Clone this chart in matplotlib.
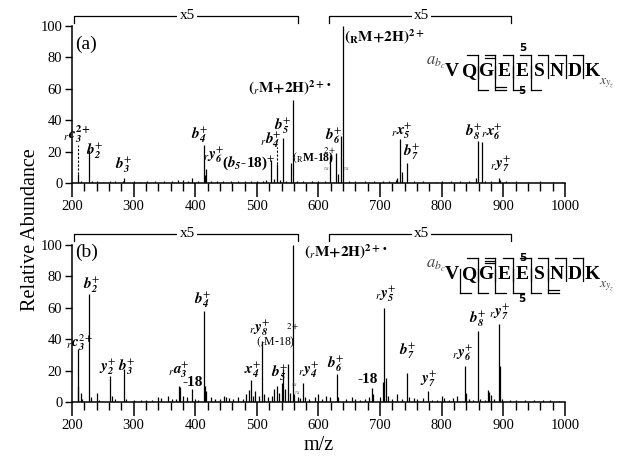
import numpy as np
import matplotlib.pyplot as plt

plt.rcParams['font.family'] = 'Liberation Serif'
plt.rcParams['mathtext.fontset'] = 'stix'

''' DATOS DEL ESPECTRO (m/z, abundancia relativa tal como se ve, con las zonas x5 ya aumentadas) '''
mz_a = [209, 215, 228, 232, 240, 250, 262, 270, 283, 285, 300, 310, 322, 335, 350, 362, 372, 380,
        388, 394, 405, 414, 416, 418, 425, 435, 445, 458, 470, 480, 490, 500, 510, 515, 523, 528,
        533, 538, 543, 548, 556, 558, 565, 575, 590, 600, 610, 619, 628, 632, 637, 639, 650, 660,
        675, 690, 705, 715, 725, 728, 733, 735, 744, 755, 770, 790, 800, 815, 830, 845, 855, 859,
        865, 870, 880, 893, 895, 905, 920, 940, 960, 980, 995]
ab_a = [6, 1.5, 21, 1, 1.2, 0.8, 1, 1.2, 1.5, 3, 1, 0.8, 1, 1.2, 1, 1.5, 2, 1.8,
        1.2, 3.5, 1.5, 24, 5, 9, 1.5, 1, 1.2, 1, 1.5, 1, 1.5, 1, 1.5, 2, 14.5, 2.5,
        12, 2, 28.5, 1.5, 13, 53, 1.5, 1, 1, 1.2, 1.5, 18, 19, 6, 30, 100, 1.5, 1,
        1, 1.2, 1, 1.2, 2, 3, 28, 7, 13, 1, 1, 0.8, 1, 1, 1, 1.5, 3, 27,
        26, 1.5, 1, 3, 2, 1, 1, 0.8, 1, 0.8, 0.8]

mz_b = [209, 210.5, 214, 217, 228, 231, 240, 244, 262, 265, 270, 285, 288, 300, 312, 320, 330,
        340, 345, 356, 362, 368, 374, 376, 380, 386, 394, 400, 405, 414, 416, 418, 425, 432, 440,
        447, 450, 455, 462, 470, 478, 483, 487, 490, 493, 497, 503, 508, 511, 518, 525, 528, 533,
        536, 540, 543, 546, 550, 553, 558, 560, 566, 570, 575, 578, 585, 595, 600, 606, 612, 618,
        630, 632, 645, 654, 660, 668, 675, 682, 687, 689, 700, 705, 707, 709, 712, 720, 727, 735,
        744, 747, 755, 760, 770, 777, 785, 792, 800, 803, 812, 818, 825, 837, 839, 845, 851, 859,
        862, 870, 875, 877, 880, 885, 893, 895, 898, 910, 920, 935, 950, 965, 975, 990]
ab_b = [34, 10, 6, 2, 69, 3, 6, 1.5, 16.5, 4, 2, 21, 2, 1, 1.2, 1.5, 1.5,
        3, 2.5, 3.6, 2, 2, 10, 9.6, 4, 3, 8.3, 2, 1.5, 57.7, 10, 7, 3, 2, 2,
        4, 3, 2.5, 2, 3, 2, 5, 7.5, 14, 4, 6.8, 3.6, 39, 5, 3, 4, 8.3, 10,
        6, 12, 20.7, 8, 24, 6, 100, 5, 3, 2.5, 12.2, 3, 2, 3, 5, 2, 4, 3,
        18, 3, 2, 3, 2, 1.5, 2, 3, 8.6, 5, 3, 13, 60, 15, 4, 2, 5, 2,
        18.3, 3, 2.5, 2, 2.8, 7.1, 1.5, 1.5, 3.7, 2.5, 1.5, 2.8, 3.5, 23, 5.8, 2, 1.5, 45,
        2, 1.5, 7.5, 6.5, 4.7, 2, 49.6, 22.7, 2, 1, 1, 1.2, 1, 1, 1.2, 0.8]

''' ETIQUETAS DE IONES (texto, m/z, altura) '''
etiquetas_a = [
    (r'${}_{r}\mathbfit{c}_{\mathbfit{3}}^{\mathbf{2+}}$', 209, 31),
    (r'$\mathbfit{b}_{\mathbfit{2}}^{+}$', 237, 20),
    (r'$\mathbfit{b}_{\mathbfit{3}}^{+}$', 284, 11.5),
    (r'$\mathbfit{b}_{\mathbfit{4}}^{+}$', 406, 30.5),
    (r'${}_{r}\mathbfit{y}_{\mathbfit{6}}^{+}$', 429, 17.8),
    (r'($\mathbfit{b}_{\mathbfit{5}}$-18)$^{+}$', 487, 12.7),
    (r'${}_{r}\mathbfit{b}_{\mathbfit{4}}^{+}$', 523, 27.4),
    (r'$\mathbfit{b}_{\mathbfit{5}}^{+}$', 542, 36.3),
    (r'$\mathbf{(}{}_{r}\mathbf{M{+}2H)}^{\mathbf{2+}\bullet}$', 554, 60.5),
    (r'$\mathbfit{b}_{\mathbfit{6}}^{+}$', 625, 30),
    (r'$\mathbf{(}{}_{\mathbf{R}}\mathbf{M{+}2H)}^{\mathbf{2+}}$', 706, 93),
    (r'${}_{r}\mathbfit{x}_{\mathbfit{5}}^{+}$', 735.5, 33),
    (r'$\mathbfit{b}_{\mathbfit{7}}^{+}$', 751, 19.7),
    (r'$\mathbfit{b}_{\mathbfit{8}}^{+}$', 852, 32.2),
    (r'${}_{r}\mathbfit{x}_{\mathbfit{6}}^{+}$', 881.5, 32.2),
    (r'${}_{r}\mathbfit{y}_{\mathbfit{7}}^{+}$', 896, 12.1),
]
etiquetas_b = [
    (r'${}_{r}\mathbfit{c}_{\mathbfit{3}}^{2+}$', 213, 38),
    (r'$\mathbfit{b}_{\mathbfit{2}}^{+}$', 231, 74.5),
    (r'$\mathbfit{y}_{\mathbfit{2}}^{+}$', 258, 22.3),
    (r'$\mathbfit{b}_{\mathbfit{3}}^{+}$', 288, 22.3),
    (r'${}_{r}\mathbfit{a}_{\mathbfit{3}}^{+}$', 374, 20.5),
    ('-18', 396, 12.5),
    (r'$\mathbfit{b}_{\mathbfit{4}}^{+}$', 411, 65),
    (r'$\mathbfit{x}_{\mathbfit{4}}^{+}$', 494, 20.4),
    (r'${}_{r}\mathbfit{y}_{\mathbfit{8}}^{+}$', 505, 47),
    (r'$\mathbfit{b}_{\mathbfit{5}}^{+}$', 536, 18),
    (r'${}_{r}\mathbfit{y}_{\mathbfit{4}}^{+}$', 583, 20.4),
    (r'$\mathbf{(}{}_{r}\mathbf{M{+}2H)}^{\mathbf{2+}\bullet}$', 645, 95.5),
    (r'$\mathbfit{b}_{\mathbfit{6}}^{+}$', 627, 24.2),
    ('-18', 680, 14.3),
    (r'${}_{r}\mathbfit{y}_{\mathbfit{5}}^{+}$', 708, 68.8),
    (r'$\mathbfit{b}_{\mathbfit{7}}^{+}$', 745, 32.5),
    (r'$\mathbfit{y}_{\mathbfit{7}}^{+}$', 778, 14.3),
    (r'${}_{r}\mathbfit{y}_{\mathbfit{6}}^{+}$', 834, 31.4),
    (r'$\mathbfit{b}_{\mathbfit{8}}^{+}$', 858, 52.9),
    (r'${}_{r}\mathbfit{y}_{\mathbfit{7}}^{+}$', 893.6, 57.3),
]

residuos = ['V', 'Q', 'G', 'E', 'E', 'S', 'N', 'D', 'K']
# cortes: hueco -> numero de lineas (arriba: fragmentos N-term, abajo: C-term)
cortes_arriba_a = {2: 1, 3: 2, 4: 1, 5: 1, 6: 1, 7: 1, 8: 1}
cortes_abajo_a = {2: 1, 3: 2, 4: 1, 5: 1}
cortes_arriba_b = {2: 1, 3: 3, 4: 1, 5: 1, 6: 1, 7: 1, 8: 1}
cortes_abajo_b = {1: 1, 2: 1, 3: 1, 4: 1, 5: 1, 6: 2}

zonas_x5 = [(203, 567), (617, 913)]


def estilo(ax, mz, ab):
    ax.vlines(mz, 0, ab, color='black', lw=0.9)
    ax.set_xlim(200, 1000)
    ax.set_ylim(0, 100)
    ax.spines['top'].set_visible(False)
    ax.spines['right'].set_visible(False)
    ax.spines['left'].set_linewidth(1.1)
    ax.spines['bottom'].set_linewidth(1.1)
    ax.set_xticks(range(200, 1001, 100))
    ax.set_xticks(range(200, 1001, 20), minor=True)
    ax.set_yticks(range(0, 101, 20))
    ax.tick_params(axis='x', which='major', length=10, width=1.1, labelsize=10.5, pad=2)
    ax.tick_params(axis='x', which='minor', length=6, width=1)
    ax.tick_params(axis='y', length=5, width=1, labelsize=10.5, pad=2)


def corchetes(ax, y):
    for x0, x1 in zonas_x5:
        ax.plot([x0, x0, x1, x1], [y - 4.5, y, y, y - 4.5], color='black', lw=0.9, clip_on=False)
        ax.text((x0 + x1) / 2 + 2, y, 'x5', fontsize=11, ha='center', va='center',
                bbox=dict(facecolor='white', edgecolor='none', pad=1.5))


def secuencia(ax, y0, arriba, abajo, cinco):
    mz0, paso = 816, 28.5
    for i, r in enumerate(residuos):
        ax.text(mz0 + i * paso, y0, r, fontsize=14, fontweight='bold', ha='center', va='center')
    for g, n in arriba.items():
        xg = mz0 + (g - 0.5) * paso
        ax.plot([xg, xg], [y0 - 4, y0 + 11], color='black', lw=0.9, clip_on=False)
        for k in range(n):
            ax.plot([xg - 0.6 * paso, xg], [y0 + 11 - 1.8 * k] * 2, color='black', lw=0.9, clip_on=False)
    for g, n in abajo.items():
        xg = mz0 + (g - 0.5) * paso
        ax.plot([xg, xg], [y0 + 4, y0 - 11.5], color='black', lw=0.9, clip_on=False)
        for k in range(n):
            ax.plot([xg, xg + 0.6 * paso], [y0 - 11.5 + 1.8 * k] * 2, color='black', lw=0.9, clip_on=False)
    ax.text(mz0 - 10, y0 + 6, r'$a_{b_{c}}$', fontsize=12, color='#444444', ha='right', va='center')
    ax.text(mz0 + 8 * paso + 11, y0 - 7, r'$x_{y_{z}}$', fontsize=10, color='#444444', ha='left', va='center')
    ax.text(932, y0 + cinco[0], '5', fontsize=7.5, fontweight='bold', family='DejaVu Sans', ha='center', va='center')
    ax.text(930, y0 + cinco[1], '5', fontsize=7.5, fontweight='bold', family='DejaVu Sans', ha='center', va='center')


fig = plt.figure(figsize=(6.18, 4.59), dpi=100)
ax_a = fig.add_axes([0.1165, 0.6013, 0.7977, 0.3421])
ax_b = fig.add_axes([0.1165, 0.1242, 0.7977, 0.3421])

# Panel (a)
estilo(ax_a, mz_a, ab_a)
corchetes(ax_a, 106.6)
for txt, x, y in etiquetas_a:
    ax_a.text(x, y, txt, fontsize=11, fontweight='bold', ha='center', va='center')
ax_a.text(205, 88, '(a)', fontsize=14, ha='left', va='center')
ax_a.vlines([209, 533], [6, 12], [24, 23], color='black', lw=0.8, linestyles=(0, (2, 1.5)))
ax_a.text(591, 15.5, r'$(_{\mathrm{R}}$M-18)', fontsize=8.5, fontweight='bold', ha='center', va='center')
ax_a.text(619, 18.5, r'$^{2+}$', fontsize=9, ha='center', va='center')
for x, y in [(612, 9), (645, 9)]:
    ax_a.text(x, y, '≈', fontsize=6, color='#666666', ha='center', va='center')
secuencia(ax_a, 70.7, cortes_arriba_a, cortes_abajo_a, (15, -12))

# Panel (b)
estilo(ax_b, mz_b, ab_b)
corchetes(ax_b, 107)
for txt, x, y in etiquetas_b:
    ax_b.text(x, y, txt, fontsize=11, fontweight='bold', ha='center', va='center')
ax_b.text(205, 95, '(b)', fontsize=14, ha='left', va='center')
ax_b.text(530, 38, r'$(_{r}$M-18)', fontsize=8.5, ha='center', va='center')
ax_b.text(558, 46, r'$^{2+}$', fontsize=9, ha='center', va='center')
for x, y in [(560, 11), (566, 6)]:
    ax_b.text(x, y, '≈', fontsize=6, color='#666666', ha='center', va='center')
secuencia(ax_b, 80.9, cortes_arriba_b, cortes_abajo_b, (11, -15))

fig.text(0.049, 0.499, 'Relative Abundance', fontsize=14.5, rotation=90, ha='center', va='center')
fig.text(0.515, 0.03, 'm/z', fontsize=14.5, ha='center', va='center')

fig.savefig('out.png', dpi=100)
